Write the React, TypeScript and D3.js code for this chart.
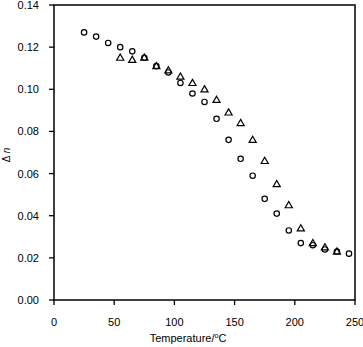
import * as d3 from "d3";

const circleTemps = [25, 35, 45, 55, 65, 75, 85, 95, 105, 115, 125, 135, 145, 155, 165, 175, 185, 195, 205, 215, 225, 235, 245];
const circleDn = [0.127, 0.125, 0.122, 0.120, 0.118, 0.115, 0.111, 0.108, 0.103, 0.098, 0.094, 0.086, 0.076, 0.067, 0.059, 0.048, 0.041, 0.033, 0.027, 0.026, 0.024, 0.023, 0.022];

const triangleTemps = [55, 65, 75, 85, 95, 105, 115, 125, 135, 145, 155, 165, 175, 185, 195, 205, 215, 225, 235];
const triangleDn = [0.115, 0.114, 0.115, 0.111, 0.109, 0.106, 0.103, 0.100, 0.095, 0.089, 0.084, 0.076, 0.066, 0.055, 0.045, 0.034, 0.027, 0.025, 0.023];

const xTicks = [0, 50, 100, 150, 200, 250];
const yTicks = [0, 0.02, 0.04, 0.06, 0.08, 0.1, 0.12, 0.14];

const W = 363;
const H = 347;
const font = "'Liberation Sans', Arial, sans-serif";

export default function App() {
  const x = d3.scaleLinear().domain([0, 250]).range([54, 355]);
  const y = d3.scaleLinear().domain([0, 0.14]).range([300, 5]);
  const tri = d3.symbol().type(d3.symbolTriangle).size(22);

  return (
    <svg width={W} height={H} style={{ position: "absolute", left: 0, top: 0 }} fontFamily={font}>
      <rect width={W} height={H} fill="#fff" />
      {/* frame */}
      <rect x={x(0)} y={y(0.14)} width={x(250) - x(0)} height={y(0) - y(0.14)} fill="none" stroke="#000" strokeWidth={1.5} />

      {/* x axis */}
      {xTicks.map((t) => (
        <g key={"x" + t}>
          <line x1={x(t)} x2={x(t)} y1={y(0)} y2={y(0) + 5} stroke="#000" strokeWidth={1.3} />
          <text x={x(t)} y={326} fontSize={11} textAnchor="middle" fill="#000">{t}</text>
        </g>
      ))}
      <text x={188} y={342} fontSize={11} textAnchor="middle" fill="#000">
        Temperature/<tspan dy={-4} fontSize={7}>o</tspan><tspan dy={4}>C</tspan>
      </text>

      {/* y axis */}
      {yTicks.map((t) => (
        <g key={"y" + t}>
          <line x1={x(0) - 5} x2={x(0)} y1={y(t)} y2={y(t)} stroke="#000" strokeWidth={1.3} />
          <text x={39} y={y(t) + 4} fontSize={11} textAnchor="end" fill="#000">{t.toFixed(2)}</text>
        </g>
      ))}
      <text transform="translate(10,155) rotate(-90)" fontSize={10} textAnchor="middle" fill="#000">
        Δ <tspan fontStyle="italic">n</tspan>
      </text>

      {/* series */}
      {triangleTemps.map((t, i) => (
        <path key={"t" + i} d={tri() as string} transform={`translate(${x(t)},${y(triangleDn[i]) + 0.5})`} fill="none" stroke="#000" strokeWidth={1.2} />
      ))}
      {circleTemps.map((t, i) => (
        <circle key={"c" + i} cx={x(t)} cy={y(circleDn[i])} r={2.7} fill="none" stroke="#000" strokeWidth={1.2} />
      ))}
    </svg>
  );
}
